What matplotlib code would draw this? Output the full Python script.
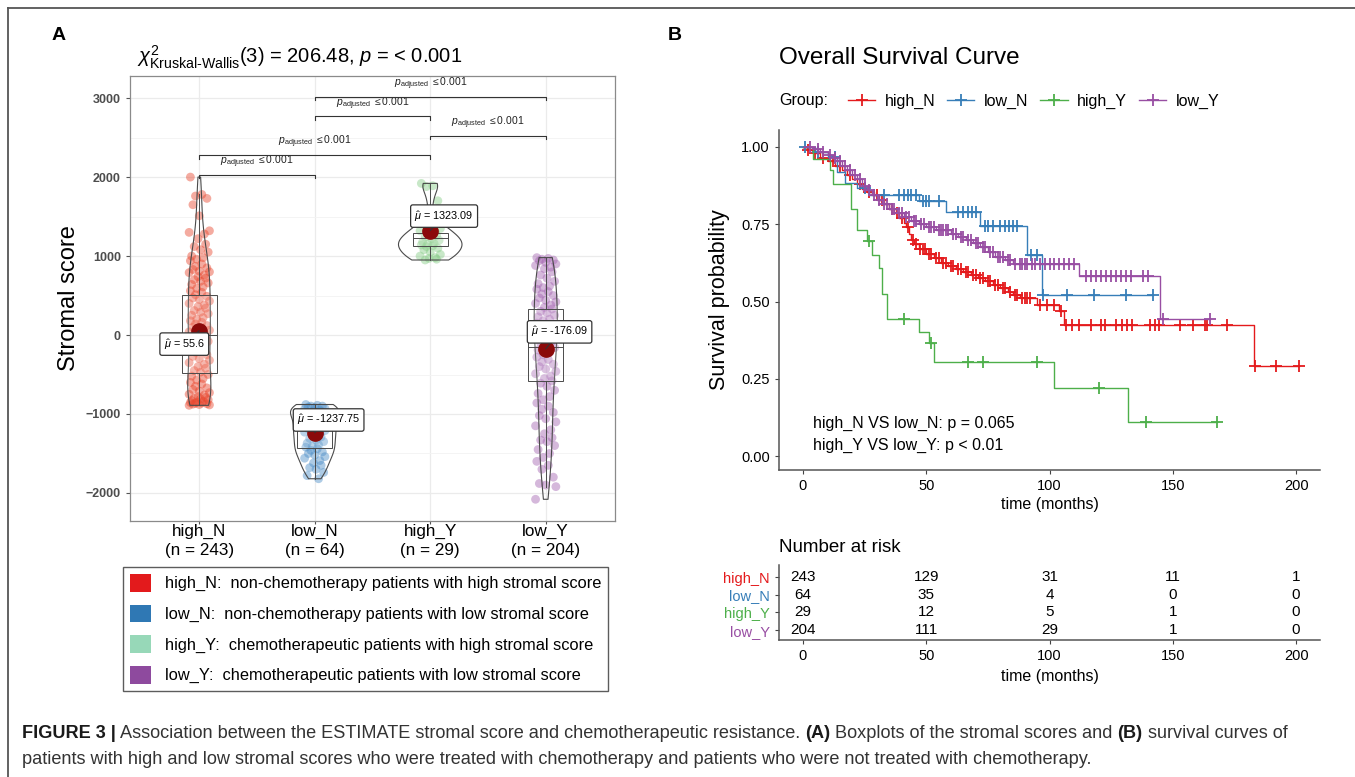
import numpy as np
import matplotlib
matplotlib.use("Agg")
import matplotlib.pyplot as plt
from matplotlib.patches import Patch
from matplotlib.lines import Line2D

plt.rcParams['font.family'] = ['Liberation Sans', 'DejaVu Sans']
plt.rcParams['mathtext.fontset'] = 'custom'
plt.rcParams['mathtext.rm'] = 'Liberation Sans'
plt.rcParams['mathtext.it'] = 'Liberation Sans:italic'
plt.rcParams['mathtext.bf'] = 'Liberation Sans:bold'

# ── data: panel A (stromal score per group) ───────────────────────────────
groups = ['high_N', 'low_N', 'high_Y', 'low_Y']
group_n = [243, 64, 29, 204]
means = [55.6, -1237.75, 1323.09, -176.09]

high_N_scores = [2000, 1780, 1760, 1730, 1650, 1510, 1320, 1300, 1280, 1220, 1150, 1120,
                 1080, 1050, 1000, 980, 960, 940, 900, 870, 850, 830, 810, 800, 790, 760,
                 740, 720, 700, 680, 660, 640, 610, 590, 560, 540, 510, 490, 470, 450, 430,
                 400, 380, 360, 340, 310, 290, 270, 250, 220, 200, 180, 160, 140, 120, 100,
                 80, 60, 40, 20, 0, -20, -40, -60, -80, -100, -130, -150, -170, -200, -220,
                 -250, -270, -300, -320, -350, -370, -400, -420, -450, -470, -500, -520,
                 -550, -570, -600, -620, -650, -670, -690, -710, -730, -750, -760, -780,
                 -790, -800, -810, -820, -830, -840, -850, -855, -860, -865, -870, -875,
                 -880, -885, -890]
low_N_scores = [-880, -890, -900, -900, -910, -920, -930, -940, -950, -960, -970, -990,
                -1010, -1030, -1050, -1070, -1090, -1110, -1130, -1150, -1170, -1190, -1200,
                -1210, -1230, -1250, -1270, -1290, -1310, -1330, -1350, -1370, -1390, -1410,
                -1420, -1440, -1460, -1480, -1500, -1520, -1540, -1560, -1590, -1620, -1650,
                -1680, -1700, -1740, -1780, -1820]
high_Y_scores = [1920, 1890, 1880, 1700, 1450, 1400, 1350, 1320, 1300, 1280, 1260, 1240,
                 1220, 1200, 1180, 1160, 1150, 1140, 1130, 1120, 1100, 1080, 1050, 1020,
                 1000, 980, 970, 960, 950]
low_Y_scores = [980, 970, 960, 950, 940, 920, 900, 880, 860, 840, 800, 760, 720, 680, 650,
                620, 600, 580, 550, 520, 500, 470, 440, 420, 400, 380, 350, 330, 300, 280,
                250, 230, 200, 180, 150, 130, 100, 80, 60, 40, 20, 0, -20, -50, -80, -100,
                -130, -160, -190, -220, -250, -280, -310, -340, -370, -400, -430, -460, -490,
                -520, -550, -580, -610, -650, -700, -740, -780, -820, -860, -900, -940, -980,
                -1020, -1060, -1100, -1150, -1200, -1250, -1300, -1330, -1350, -1400, -1450,
                -1500, -1550, -1600, -1650, -1700, -1800, -1880, -1900, -1920, -2080]
scores = [high_N_scores, low_N_scores, high_Y_scores, low_Y_scores]

# box statistics
box_q1 = [-481, -1430, 1130, -576]
box_med = [0, -1200, 1230, -150]
box_q3 = [506, -1000, 1290, 335]
box_lo = [-890, -1820, 950, -1920]
box_hi = [1780, -880, 1920, 980]

# pairwise comparisons (group index pairs, 1-based)
pairs = [(1, 2), (1, 3), (3, 4), (2, 3), (2, 4)]
pair_label = r"$p_{\mathrm{adjusted}}$ $\leq$0.001"

# ── data: panel B (Kaplan-Meier) ──────────────────────────────────────────
km_times = {
    'high_N': [0, 1.5, 4, 7, 10, 13, 16, 18, 20, 22, 24, 26, 29, 31, 33, 35, 37, 39, 41, 42,
               43, 44, 45, 47, 50, 53, 56, 59, 62, 65, 68, 71, 74, 77, 80, 83, 85, 88, 95,
               104, 106, 183],
    'low_N': [0, 5, 10, 14, 17, 22, 27, 47, 58, 72, 91, 97],
    'high_Y': [0, 4, 11, 12, 19.5, 22, 26, 28, 31, 32, 34, 47, 51, 53, 102, 132],
    'low_Y': [0, 4, 7, 10, 12, 14, 16, 18, 20, 22, 24, 26, 28, 30, 32, 35, 38, 41, 44, 47, 50,
              54, 60, 63, 66, 69, 72, 75, 78, 82, 85, 112, 145],
}
km_surv = {
    'high_N': [1.0, 0.99, 0.98, 0.965, 0.955, 0.94, 0.925, 0.91, 0.895, 0.88, 0.865, 0.855,
               0.845, 0.83, 0.815, 0.80, 0.785, 0.77, 0.755, 0.74, 0.72, 0.70, 0.685, 0.67,
               0.655, 0.64, 0.625, 0.615, 0.605, 0.595, 0.585, 0.575, 0.565, 0.555, 0.545,
               0.53, 0.52, 0.51, 0.49, 0.47, 0.425, 0.29],
    'low_N': [1.0, 0.984, 0.969, 0.92, 0.884, 0.868, 0.845, 0.825, 0.79, 0.745, 0.65, 0.52],
    'high_Y': [1.0, 0.962, 0.925, 0.88, 0.80, 0.73, 0.695, 0.65, 0.61, 0.525, 0.445, 0.40,
               0.366, 0.305, 0.22, 0.11],
    'low_Y': [1.0, 0.995, 0.985, 0.975, 0.965, 0.955, 0.94, 0.925, 0.91, 0.895, 0.875, 0.86,
              0.845, 0.83, 0.815, 0.80, 0.785, 0.775, 0.76, 0.75, 0.74, 0.73, 0.72, 0.71,
              0.70, 0.69, 0.675, 0.66, 0.645, 0.635, 0.62, 0.583, 0.443],
}
km_censor = {
    'high_N': [2, 5, 8, 12, 15, 19, 23, 27, 30, 32, 36, 38, 40, 42.5, 44.5, 46, 47.5, 48.5,
               49.5, 51, 52, 54, 55, 57, 58, 60, 61, 63, 64, 66, 67, 69, 70, 72, 73, 75, 76,
               78, 79, 81, 82, 84, 86, 87, 89, 90, 91, 92, 96, 99, 102, 104.5, 106.6, 109,
               112, 117, 121, 122.6, 127, 129.5, 131.5, 133.4, 140.6, 142.7, 144.3, 153, 158,
               163, 164, 172, 183.3, 192, 201],
    'low_N': [1, 6, 13, 25, 33, 39, 41, 42.5, 44, 46, 48.5, 50, 51, 55, 63, 65, 67, 68.5, 70,
              74, 75, 77, 80, 82, 83.5, 85, 87, 92.5, 95, 97.5, 107, 118, 131, 142],
    'high_Y': [27, 41, 52, 67, 73, 95, 120, 139, 168],
    'low_Y': [3, 6, 8, 11, 13, 15, 17, 19, 21, 23, 25, 27, 29, 31, 33, 34, 36, 37, 39, 40, 42,
              43, 45, 46, 48, 49, 51, 52, 53, 55, 56, 57, 58, 59, 61, 62, 64, 65, 67, 68, 70,
              71, 73, 74, 76, 77, 79, 80, 81, 83, 84, 86, 88, 89, 90, 91, 93, 94, 96, 98,
              100, 102, 104, 106, 108, 110, 115, 117, 119, 121, 123, 125, 127, 129, 131,
              133, 138, 140, 146, 165],
}
risk_times = [0, 50, 100, 150, 200]
risk_high_N = [243, 129, 31, 11, 1]
risk_low_N = [64, 35, 4, 0, 0]
risk_high_Y = [29, 12, 5, 1, 0]
risk_low_Y = [204, 111, 29, 1, 0]
risk_rows = [risk_high_N, risk_low_N, risk_high_Y, risk_low_Y]

legend_desc = ['non-chemotherapy patients with high stromal score',
               'non-chemotherapy patients with low stromal score',
               'chemotherapeutic patients with high stromal score',
               'chemotherapeutic patients with low stromal score']

# ── styles ────────────────────────────────────────────────────────────────
point_cols = ['#E8452C', '#4A8CC6', '#86CC86', '#A262B0']
legend_cols = ['#E31A1C', '#2F78B4', '#97D8B8', '#8E4A9E']
km_cols = {'high_N': '#E41A1C', 'low_N': '#377EB8', 'high_Y': '#4DAF4A', 'low_Y': '#984EA3'}

W, H = 1355, 777
fig = plt.figure(figsize=(W / 100, H / 100), dpi=100)


def fx(px):
    return px / W


def fy(py):
    return 1 - py / H


# frame lines (top and left)
fig.add_artist(Line2D([fx(8), 1], [fy(8), fy(8)], color='#555555', lw=1.3))
fig.add_artist(Line2D([fx(8), fx(8)], [0, fy(8)], color='#555555', lw=1.3))

fig.text(fx(52), fy(36), 'A', fontsize=14, fontweight='bold', va='center')
fig.text(fx(668), fy(36), 'B', fontsize=14, fontweight='bold', va='center')

# ── panel A ───────────────────────────────────────────────────────────────
ax = fig.add_axes([fx(130), fy(521), fx(615 - 130), (521 - 76) / H])
pos = np.arange(1, 5)
jitter = np.array([-0.07, 0.02, -0.03, 0.06, -0.05, 0.0, 0.08, -0.08, 0.04, -0.01, 0.05, -0.04,
                   0.01, 0.07, -0.06, 0.03, -0.02])
for i, vals in enumerate(scores):
    vals = np.asarray(vals)
    xs = pos[i] + np.resize(jitter, len(vals)) * 1.1
    ax.scatter(xs, vals, s=40, color=point_cols[i], alpha=0.45, edgecolor='none', zorder=2)

vp = ax.violinplot(scores, positions=pos, widths=[0.2, 0.42, 0.55, 0.2],
                   showextrema=False, bw_method=0.35)
for body in vp['bodies']:
    body.set_facecolor('none')
    body.set_edgecolor('#4a4a4a')
    body.set_linewidth(0.8)
    body.set_alpha(1)
    body.set_zorder(3)

stats = [dict(med=box_med[i], q1=box_q1[i], q3=box_q3[i], whislo=box_lo[i],
              whishi=box_hi[i], fliers=[]) for i in range(4)]
ax.bxp(stats, positions=pos, widths=0.3, showcaps=False, patch_artist=True,
       boxprops=dict(facecolor=(1, 1, 1, 0.15), edgecolor='#4a4a4a', lw=0.7),
       medianprops=dict(color='#4a4a4a', lw=0.7),
       whiskerprops=dict(color='#4a4a4a', lw=0.7), zorder=3)
ax.plot(pos, means, 'o', color='#8B0A0A', markersize=11, zorder=4)

label_xy = [(0.87, -115), (2.12, -1076), (3.12, 1506), (4.12, 40)]
for i in range(4):
    ax.annotate(r"$\hat{\mu}$ = " + f"{means[i]:g}", xy=(pos[i], means[i]),
                xytext=label_xy[i], ha='center', va='center', fontsize=7.8, zorder=6,
                bbox=dict(boxstyle='round,pad=0.35,rounding_size=0.2', fc='white',
                          ec='#333333', lw=0.9),
                arrowprops=dict(arrowstyle='-', color='#333333', lw=0.8,
                                shrinkA=0, shrinkB=0))

bracket_y = [2030, 2278, 2525, 2768, 3016]
for (g1, g2), by in zip(pairs, bracket_y):
    ax.plot([g1, g1, g2, g2], [by - 45, by, by, by - 45], color='#333333', lw=0.8, zorder=5)
    ax.text((g1 + g2) / 2, by + 60, pair_label, ha='center', va='bottom', fontsize=7.5,
            color='#222222')

ax.set_xlim(0.4, 4.6)
ax.set_ylim(-2355, 3280)
ax.set_xticks(pos)
ax.set_xticklabels([f"{g}\n(n = {n})" for g, n in zip(groups, group_n)], fontsize=12.3,
                   linespacing=1.3)
ax.set_yticks([-2000, -1000, 0, 1000, 2000, 3000])
ax.set_yticks([-1500, -500, 500, 1500, 2500], minor=True)
ax.tick_params(axis='y', which='major', labelsize=9, labelcolor='#4D4D4D', length=3,
               color='#555555')
ax.tick_params(axis='y', which='minor', length=0)
ax.tick_params(axis='x', length=2, color='#555555', pad=0)
for lab in ax.get_yticklabels():
    lab.set_fontweight('bold')
ax.grid(True, which='major', color='#EBEBEB', lw=0.9, zorder=0)
ax.grid(True, which='minor', axis='y', color='#F3F3F3', lw=0.6, zorder=0)
ax.set_axisbelow(True)
for sp in ax.spines.values():
    sp.set_color('#8a8a8a')
    sp.set_linewidth(0.9)
ax.set_ylabel('Stromal score', fontsize=17, labelpad=4)
ax.text(0.015, 1.012, r"$\chi^2_{\mathrm{Kruskal}\text{-}\mathrm{Wallis}}(3)$ = 206.48, $p$ = < 0.001",
        transform=ax.transAxes, fontsize=14.5, ha='left', va='bottom')

handles = [Patch(facecolor=c, edgecolor='none') for c in legend_cols]
labels = [f"{g}:  {d}" for g, d in zip(groups, legend_desc)]
fig.legend(handles, labels, loc='upper left', bbox_to_anchor=(fx(123), fy(567)),
           fontsize=11.8, frameon=True, fancybox=False, edgecolor='#333333',
           handlelength=1.3, handleheight=1.3, handletextpad=0.85, labelspacing=0.78,
           borderpad=0.42, borderaxespad=0)

# ── panel B: Kaplan-Meier ─────────────────────────────────────────────────
kax = fig.add_axes([fx(779), fy(470), fx(1320 - 779), (470 - 130) / H])
for g in groups:
    t = np.array(km_times[g] + [km_censor[g][-1]])
    s = np.array(km_surv[g] + [km_surv[g][-1]])
    kax.step(t, s, where='post', color=km_cols[g], lw=1.0)
    ct = np.array(km_censor[g])
    idx = np.searchsorted(np.array(km_times[g]), ct, side='right') - 1
    cs = np.array(km_surv[g])[idx]
    kax.plot(ct, cs, '+', color=km_cols[g], markersize=8.5, mew=1.3, ls='none')

kax.set_xlim(-9.7, 209.7)
kax.set_ylim(-0.045, 1.055)
kax.set_xticks(risk_times)
kax.set_yticks([0, 0.25, 0.5, 0.75, 1.0])
kax.set_yticklabels(['0.00', '0.25', '0.50', '0.75', '1.00'])
kax.tick_params(labelsize=10.5, length=3, color='#444444')
for s in ['top', 'right']:
    kax.spines[s].set_visible(False)
for s in ['left', 'bottom']:
    kax.spines[s].set_color('#555555')
    kax.spines[s].set_linewidth(1.1)
kax.set_ylabel('Survival probability', fontsize=15.5, labelpad=8)
kax.set_xlabel('time (months)', fontsize=11.5, labelpad=3)
kax.text(4, 0.105, 'high_N VS low_N: p = 0.065', fontsize=11.5, va='center')
kax.text(4, 0.035, 'high_Y VS low_Y: p < 0.01', fontsize=11.5, va='center')

fig.text(fx(779), fy(58), 'Overall Survival Curve', fontsize=17.5, va='center')
fig.text(fx(779), fy(101), 'Group:', fontsize=11.5, va='center')
km_handles = [Line2D([0], [0], color=km_cols[g], lw=1.0, marker='+', markersize=9, mew=1.3)
              for g in groups]
fig.legend(km_handles, groups, loc='center left', bbox_to_anchor=(fx(848), fy(101)), ncol=4,
           frameon=False, fontsize=11.5, handlelength=1.7, handletextpad=0.6,
           columnspacing=0.75, borderpad=0, borderaxespad=0)

# ── risk table ────────────────────────────────────────────────────────────
rax = fig.add_axes([fx(779), fy(640), fx(1320 - 779), 75 / H])
row_y = [4, 3, 2, 1]
for row, yv in zip(risk_rows, row_y):
    for t, n in zip(risk_times, row):
        rax.text(t, yv, str(n), ha='center', va='center', fontsize=11)
rax.set_xlim(-9.7, 209.7)
rax.set_ylim(0.44, 4.68)
rax.set_xticks(risk_times)
rax.set_yticks(row_y)
rax.set_yticklabels(groups)
for lab, g in zip(rax.get_yticklabels(), groups):
    lab.set_color(km_cols[g])
rax.tick_params(labelsize=10.5, length=3, color='#444444')
for s in ['top', 'right']:
    rax.spines[s].set_visible(False)
for s in ['left', 'bottom']:
    rax.spines[s].set_color('#555555')
    rax.spines[s].set_linewidth(1.1)
rax.set_xlabel('time (months)', fontsize=11.5, labelpad=4)
fig.text(fx(779), fy(548), 'Number at risk', fontsize=13.5, va='center')

# ── caption ───────────────────────────────────────────────────────────────
renderer = fig.canvas.get_renderer()


def draw_runs(x, y, runs, size):
    for text, weight, col in runs:
        t = fig.text(x, y, text, fontsize=size, fontweight=weight, color=col,
                     va='center', ha='left')
        x += t.get_window_extent(renderer).width / fig.bbox.width


cap_size = 13.1
draw_runs(fx(22), fy(733), [
    ('FIGURE 3 |', 'bold', '#1a1a1a'),
    (' Association between the ESTIMATE stromal score and chemotherapeutic resistance. ',
     'normal', '#333333'),
    ('(A)', 'bold', '#1a1a1a'),
    (' Boxplots of the stromal scores and ', 'normal', '#333333'),
    ('(B)', 'bold', '#1a1a1a'),
    (' survival curves of', 'normal', '#333333'),
], cap_size)
draw_runs(fx(22), fy(760), [
    ('patients with high and low stromal scores who were treated with chemotherapy and '
     'patients who were not treated with chemotherapy.', 'normal', '#333333'),
], cap_size)

fig.savefig('out.png', dpi=100)
